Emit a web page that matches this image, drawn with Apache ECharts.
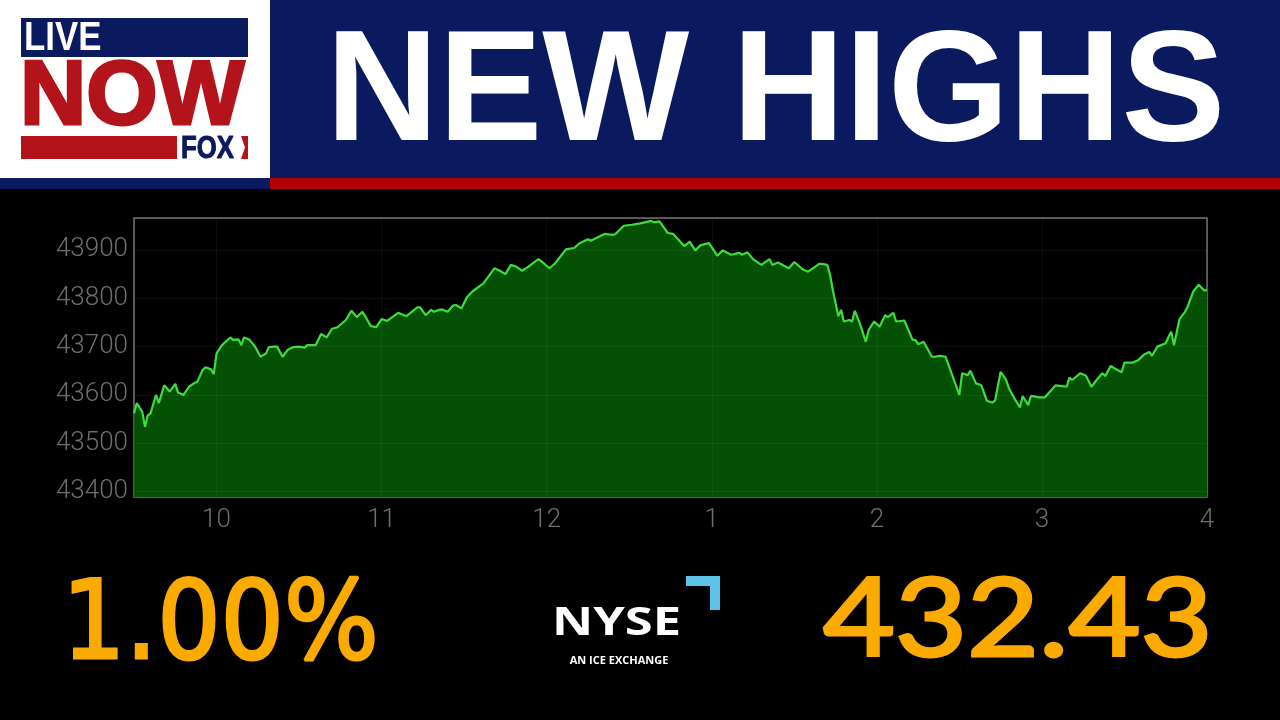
<!DOCTYPE html>
<html>
<head>
<meta charset="utf-8">
<script src="https://cdn.jsdelivr.net/npm/echarts@6/dist/echarts.min.js"></script>
<style>
html,body{margin:0;padding:0;background:#000;}
#chart{width:1280px;height:720px;}
</style>
</head>
<body>
<div id="chart"></div>
<script>
// ---- Data ----
const headline = 'NEW HIGHS';
const percentChange = '1.00%';
const pointChange = '432.43';
const marketOpenMinute = 570;   // 9:30
const marketCloseMinute = 960;  // 16:00
const yTickStep = 100;
const yMin = 43389;
const yMax = 43966;

// minutes after the 9:30 open
const minutesFromOpen = [
  0,1,3,4,5,6,8,9,11,13,
  15,16,18,20,22,23,25,26,28,29,
  30,32,35,36,38,39,40,42,44,46,
  48,49,51,52,54,56,58,60,62,63,
  66,68,70,72,74,77,79,81,83,84,
  86,88,90,92,96,99,103,104,106,108,
  109,111,112,114,116,117,119,121,123,127,
  131,133,135,137,139,141,143,147,149,151,
  153,157,160,162,165,166,171,174,175,178,
  181,184,188,189,191,194,196,200,202,204,
  206,209,212,214,217,220,221,223,225,228,
  231,232,234,238,240,243,245,248,249,250,
  252,253,254,256,257,258,260,261,262,264,
  266,267,269,271,273,274,276,277,280,283,
  284,285,287,290,291,293,295,300,301,303,
  304,306,308,310,312,313,315,317,318,320,
  322,323,325,326,329,331,335,339,340,341,
  344,346,348,350,352,353,355,357,359,360,
  363,365,367,369,370,372,375,376,377,378,
  380,382,383,385,387,389,390
];
const indexValues = [
  43562,43583,43565,43534,43558,43562,43600,43583,43620,43607,
  43623,43605,43600,43617,43625,43627,43652,43657,43653,43643,
  43686,43703,43719,43714,43715,43703,43719,43714,43700,43679,
  43686,43699,43700,43700,43679,43694,43699,43700,43698,43703,
  43703,43726,43719,43737,43740,43755,43774,43761,43772,43763,
  43743,43740,43757,43753,43770,43763,43781,43781,43765,43776,
  43772,43776,43777,43772,43785,43786,43779,43802,43814,43831,
  43862,43857,43850,43869,43865,43857,43864,43881,43872,43862,
  43872,43901,43904,43914,43922,43919,43933,43931,43933,43950,
  43952,43955,43960,43957,43959,43935,43933,43908,43917,43899,
  43910,43914,43888,43899,43890,43894,43890,43895,43881,43869,
  43881,43869,43874,43862,43875,43860,43855,43867,43871,43871,
  43869,43848,43817,43763,43776,43752,43755,43752,43774,43745,
  43710,43734,43752,43741,43765,43761,43770,43752,43754,43714,
  43714,43705,43710,43679,43679,43681,43679,43600,43645,43641,
  43650,43624,43620,43588,43584,43589,43648,43631,43614,43593,
  43574,43598,43579,43598,43595,43595,43620,43617,43636,43631,
  43645,43640,43617,43632,43645,43639,43660,43653,43647,43667,
  43667,43672,43683,43689,43681,43700,43707,43720,43731,43703,
  43757,43772,43783,43814,43828,43816,43817
];

const seriesData = minutesFromOpen.map((m, i) => [marketOpenMinute + m, indexValues[i]]);

const NAVY = '#0b1a5e';
const RED = '#b00000';
const LOGO_RED = '#b3141c';
const ORANGE = '#fbaa00';
const AXIS_GRAY = '#6e6e6e';

const chart = echarts.init(document.getElementById('chart'), null, {renderer: 'canvas'});

chart.setOption({
  backgroundColor: '#000000',
  animation: false,
  grid: {
    left: 134, right: 73, top: 218, bottom: 223,
    show: true, borderColor: '#707070', borderWidth: 1.5,
    backgroundColor: 'transparent'
  },
  xAxis: {
    type: 'value',
    min: marketOpenMinute,
    max: marketCloseMinute,
    minInterval: 60,
    maxInterval: 60,
    z: 3,
    axisLine: {show: false},
    axisTick: {show: false},
    splitLine: {show: true, lineStyle: {color: 'rgba(255,255,255,0.05)', width: 1}},
    axisLabel: {
      color: AXIS_GRAY, fontSize: 26, fontFamily: 'Roboto', fontWeight: 300, margin: 10,
      formatter: v => (v % 60 === 0) ? String(((v / 60 - 1) % 12) + 1) : ''
    }
  },
  yAxis: {
    type: 'value',
    min: yMin,
    max: yMax,
    minInterval: yTickStep,
    maxInterval: yTickStep,
    z: 3,
    axisLine: {show: false},
    axisTick: {show: false},
    splitLine: {show: true, lineStyle: {color: 'rgba(255,255,255,0.05)', width: 1}},
    axisLabel: {
      color: AXIS_GRAY, fontSize: 26, fontFamily: 'Roboto', fontWeight: 300, margin: 6,
      formatter: v => (v % yTickStep === 0) ? String(v) : ''
    }
  },
  series: [{
    type: 'line',
    data: seriesData,
    showSymbol: false,
    smooth: false,
    lineStyle: {color: '#3ddc3d', width: 2.2},
    areaStyle: {color: '#045004', opacity: 1},
    z: 2
  }],
  graphic: [
    // header backgrounds
    {type: 'rect', shape: {x: 0, y: 0, width: 270, height: 178}, style: {fill: '#ffffff'}, z: 10},
    {type: 'rect', shape: {x: 270, y: 0, width: 1010, height: 178}, style: {fill: NAVY}, z: 10},
    {type: 'rect', shape: {x: 0, y: 178, width: 270, height: 11}, style: {fill: NAVY}, z: 10},
    {type: 'rect', shape: {x: 270, y: 178, width: 1010, height: 11}, style: {fill: RED}, z: 10},
    // logo
    {type: 'rect', shape: {x: 21, y: 18, width: 227, height: 39}, style: {fill: NAVY}, z: 11},
    {type: 'text', x: 24, y: 39, scaleX: 0.85, z: 12,
      style: {text: 'LIVE', fill: '#ffffff', fontSize: 41, fontWeight: 'bold', fontFamily: 'Liberation Sans', align: 'left', verticalAlign: 'middle'}},
    {type: 'text', x: 20, y: 99, scaleX: 1.02, z: 12,
      style: {text: 'NOW', fill: LOGO_RED, fontSize: 90, fontWeight: 'bold', fontFamily: 'Liberation Sans', align: 'left', verticalAlign: 'middle', stroke: LOGO_RED, lineWidth: 3}},
    {type: 'rect', shape: {x: 21, y: 136, width: 156, height: 23}, style: {fill: LOGO_RED}, z: 11},
    {type: 'text', x: 181, y: 149, scaleX: 0.83, z: 12,
      style: {text: 'FOX', fill: NAVY, fontSize: 31, fontWeight: 'bold', fontFamily: 'Liberation Sans', align: 'left', verticalAlign: 'middle', stroke: NAVY, lineWidth: 1}},
    {type: 'polygon', shape: {points: [[241, 136], [248, 136], [248, 159], [241, 159], [245, 147.5]]}, style: {fill: LOGO_RED}, z: 11},
    // headline
    {type: 'text', x: 326, y: 96, scaleX: 0.985, z: 12,
      style: {text: headline, fill: '#ffffff', fontSize: 158, fontWeight: 'bold', fontFamily: 'Liberation Sans', align: 'left', verticalAlign: 'middle'}},
    // bottom figures
    {type: 'text', x: 62, y: 630, scaleX: 0.915, z: 12,
      style: {text: percentChange, fill: ORANGE, fontSize: 109, fontFamily: 'DejaVu Sans', align: 'left', verticalAlign: 'middle', stroke: ORANGE, lineWidth: 3}},
    {type: 'text', x: 823, y: 621, scaleX: 1.15, z: 12,
      style: {text: pointChange, fill: ORANGE, fontSize: 108, fontFamily: 'Lato', align: 'left', verticalAlign: 'middle', stroke: ORANGE, lineWidth: 3}},
    // NYSE logo
    {type: 'text', x: 552, y: 624, scaleX: 1.3, z: 12,
      style: {text: 'NYSE', fill: '#ffffff', fontSize: 39, fontWeight: 'bold', fontFamily: 'Open Sans', align: 'left', verticalAlign: 'middle'}},
    {type: 'text', x: 619, y: 661, z: 12,
      style: {text: 'AN ICE EXCHANGE', fill: '#ffffff', fontSize: 11, fontWeight: 'bold', fontFamily: 'Open Sans', align: 'center', verticalAlign: 'middle'}},
    {type: 'polygon', shape: {points: [[686, 576], [720, 576], [720, 610], [710, 610], [710, 586], [686, 586]]}, style: {fill: '#5ec3ea'}, z: 12}
  ]
});
</script>
</body>
</html>
